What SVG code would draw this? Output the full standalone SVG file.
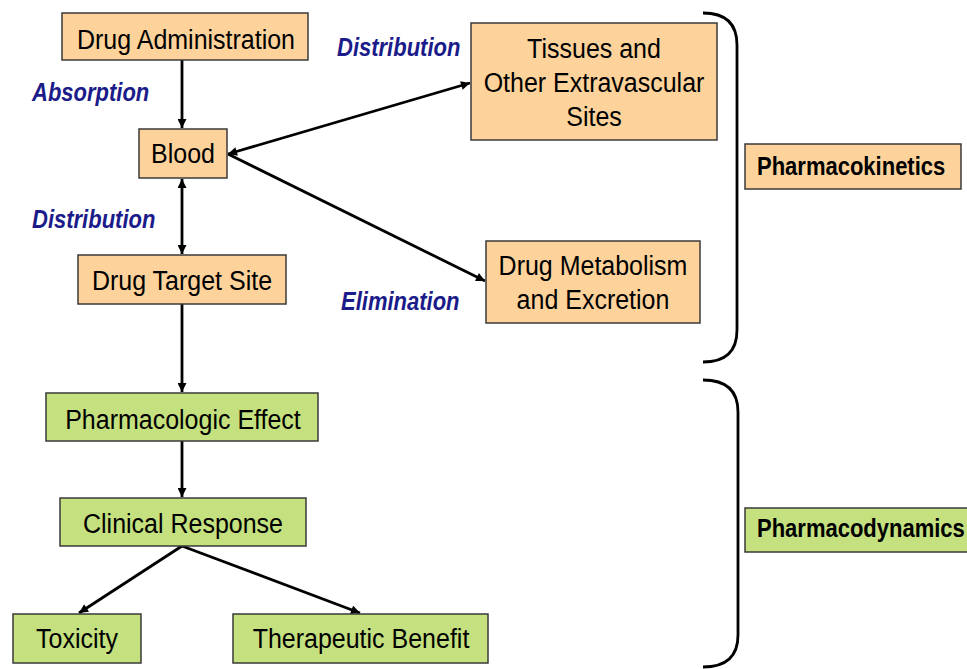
<svg xmlns="http://www.w3.org/2000/svg" width="967" height="669" viewBox="0 0 967 669">
<defs>
<style>
.box{stroke:#3a3a3a;stroke-width:1.5}
.pk{fill:#FDD39B}
.pd{fill:#C5E07F}
.t{font-family:"Liberation Sans",Arial,sans-serif;font-size:25px;fill:#000;text-anchor:middle}
.b{font-family:"Liberation Sans",Arial,sans-serif;font-size:22px;font-weight:bold;fill:#000}
.lbl{font-family:"Liberation Sans",Arial,sans-serif;font-size:22px;font-weight:bold;font-style:italic;fill:#1B1B8A}
.c{stroke:#000;stroke-width:2.8;fill:none}
.br{stroke:#000;stroke-width:2.8;fill:none}
</style>
<marker id="ah" viewBox="0 0 10 10" refX="10" refY="5" markerWidth="10" markerHeight="9" markerUnits="userSpaceOnUse" orient="auto-start-reverse">
<path d="M0,0 L10,5 L0,10 Z" fill="#000"/>
</marker>
</defs>
<rect width="967" height="669" fill="#fff"/>

<g id="connectors">
<line class="c" x1="182" y1="60" x2="182" y2="128" marker-end="url(#ah)"/>
<line class="c" x1="182" y1="179" x2="182" y2="254" marker-start="url(#ah)" marker-end="url(#ah)"/>
<line class="c" x1="182" y1="304" x2="182" y2="392" marker-end="url(#ah)"/>
<line class="c" x1="182" y1="441" x2="182" y2="497" marker-end="url(#ah)"/>
<line class="c" x1="182" y1="546" x2="79" y2="613" marker-end="url(#ah)"/>
<line class="c" x1="182" y1="546" x2="360" y2="613" marker-end="url(#ah)"/>
<line class="c" x1="228" y1="154" x2="470" y2="83" marker-start="url(#ah)" marker-end="url(#ah)"/>
<line class="c" x1="228" y1="154" x2="485" y2="281" marker-end="url(#ah)"/>
</g>

<g id="labels">
<text class="lbl" transform="translate(32,101) scale(1,1.13)">Absorption</text>
<text class="lbl" transform="translate(32,228) scale(1,1.13)">Distribution</text>
<text class="lbl" transform="translate(337,56) scale(1,1.13)">Distribution</text>
<text class="lbl" transform="translate(341,310) scale(1,1.13)">Elimination</text>
</g>

<g id="drug-administration">
<rect class="box pk" x="62" y="13" width="246" height="47"/>
<text class="t" transform="translate(186,49) scale(1,1.13)">Drug Administration</text>
</g>
<g id="blood">
<rect class="box pk" x="139" y="129" width="88" height="49"/>
<text class="t" transform="translate(183,163) scale(1,1.13)">Blood</text>
</g>
<g id="drug-target-site">
<rect class="box pk" x="78" y="255" width="208" height="49"/>
<text class="t" transform="translate(182,290) scale(1,1.13)">Drug Target Site</text>
</g>
<g id="tissues">
<rect class="box pk" x="471" y="23" width="246" height="117"/>
<text class="t" transform="translate(594,58) scale(1,1.13)">Tissues and</text>
<text class="t" transform="translate(594,92) scale(1,1.13)">Other Extravascular</text>
<text class="t" transform="translate(594,126) scale(1,1.13)">Sites</text>
</g>
<g id="metabolism">
<rect class="box pk" x="486" y="241" width="214" height="82"/>
<text class="t" transform="translate(593,275) scale(1,1.13)">Drug Metabolism</text>
<text class="t" transform="translate(593,309) scale(1,1.13)">and Excretion</text>
</g>
<g id="pharmacokinetics">
<rect class="box pk" x="745" y="144" width="216" height="45"/>
<text class="b" transform="translate(757,175) scale(1,1.13)">Pharmacokinetics</text>
</g>
<g id="pharmacologic-effect">
<rect class="box pd" x="46" y="393" width="272" height="48"/>
<text class="t" transform="translate(183,429) scale(1,1.13)">Pharmacologic Effect</text>
</g>
<g id="clinical-response">
<rect class="box pd" x="60" y="498" width="246" height="48"/>
<text class="t" transform="translate(183,533) scale(1,1.13)">Clinical Response</text>
</g>
<g id="toxicity">
<rect class="box pd" x="13" y="614" width="128" height="49"/>
<text class="t" transform="translate(77,648) scale(1,1.13)">Toxicity</text>
</g>
<g id="therapeutic-benefit">
<rect class="box pd" x="233" y="614" width="255" height="49"/>
<text class="t" transform="translate(361,648) scale(1,1.13)">Therapeutic Benefit</text>
</g>
<g id="pharmacodynamics">
<rect class="box pd" x="745" y="508" width="230" height="44"/>
<text class="b" transform="translate(757,537) scale(1,1.13)">Pharmacodynamics</text>
</g>

<g id="brackets">
<path class="br" d="M703,13 Q737,13 737,45 L737,330 Q737,362 703,362"/>
<path class="br" d="M703,380 Q738,380 738,412 L738,635 Q738,667 703,667"/>
</g>
</svg>
